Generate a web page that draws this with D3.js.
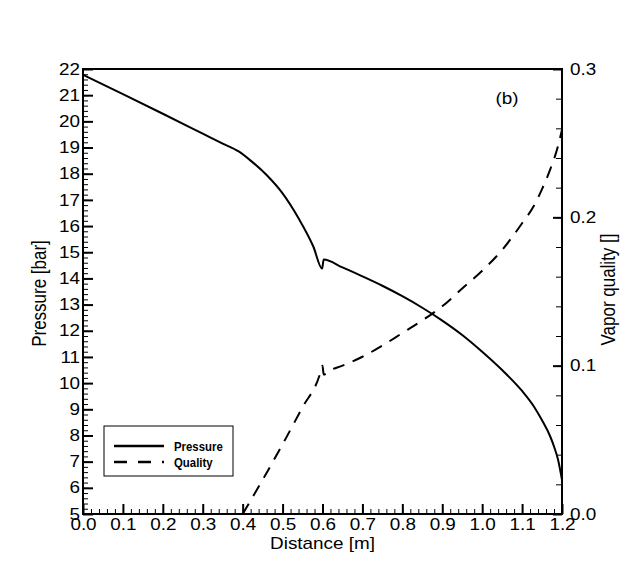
<!DOCTYPE html>
<html>
<head>
<meta charset="utf-8">
<script src="https://cdn.jsdelivr.net/npm/d3@7"></script>
<style>
  html, body { margin: 0; padding: 0; background: #fff; }
  svg { display: block; }
  text { font-family: "Liberation Sans", Arial, sans-serif; fill: #000; }
</style>
</head>
<body>
<svg id="chart" width="640" height="578"></svg>
<script>
// ---- data ----
const distancePressure = [0, 0.1, 0.2, 0.3, 0.35, 0.39, 0.42, 0.46, 0.5, 0.54, 0.577, 0.599, 0.603, 0.65, 0.7, 0.75, 0.8, 0.85, 0.9, 0.95, 1.0, 1.05, 1.1, 1.13, 1.15, 1.17, 1.18, 1.19, 1.2];
const pressure = [21.78, 21.04, 20.29, 19.53, 19.15, 18.85, 18.5, 17.95, 17.25, 16.3, 15.22, 14.38, 14.72, 14.42, 14.08, 13.72, 13.32, 12.88, 12.39, 11.84, 11.2, 10.5, 9.7, 9.1, 8.58, 7.98, 7.58, 7.08, 6.3];

const distanceQuality = [0.4, 0.45, 0.5, 0.55, 0.592, 0.6, 0.603, 0.62, 0.65, 0.7, 0.75, 0.8, 0.85, 0.9, 0.95, 1.0, 1.05, 1.1, 1.13, 1.15, 1.17, 1.19, 1.2];
const quality = [0, 0.023, 0.047, 0.072, 0.093, 0.1, 0.094, 0.097, 0.1, 0.106, 0.1135, 0.122, 0.1305, 0.14, 0.152, 0.164, 0.178, 0.196, 0.208, 0.219, 0.232, 0.248, 0.259];

const xTicks = [0, 0.1, 0.2, 0.3, 0.4, 0.5, 0.6, 0.7, 0.8, 0.9, 1.0, 1.1, 1.2];
const pTicks = [5, 6, 7, 8, 9, 10, 11, 12, 13, 14, 15, 16, 17, 18, 19, 20, 21, 22];
const qTicks = [0, 0.1, 0.2, 0.3];
const seriesNames = ["Pressure", "Quality"];
const titles = { x: "Distance [m]", yLeft: "Pressure [bar]", yRight: "Vapor quality []", panel: "(b)" };

// ---- layout ----
const L = 83, R = 562, T = 69, B = 514;
const SX = 1.18; // horizontal stretch of the reference lettering
const svg = d3.select("#chart");

const x = d3.scaleLinear().domain([0, 1.2]).range([L, R]);
const yP = d3.scaleLinear().domain([5, 22]).range([B, T]);
const yQ = d3.scaleLinear().domain([0, 0.3]).range([B, T]);

const range = (a, b, s) => d3.range(Math.round((b - a) / s) + 1).map(i => +(a + i * s).toFixed(4));

function stretch(sel, k) {
  const s = k || SX;
  sel.each(function () {
    const t = d3.select(this);
    const tx = +t.attr("x") || 0, ty = +t.attr("y") || 0;
    t.attr("x", 0).attr("y", 0).attr("transform", `translate(${tx},${ty}) scale(${s},1)`);
  });
}

function styleAxis(g, major) {
  g.select(".domain").remove();
  g.selectAll(".tick line").attr("stroke", "#000").attr("stroke-width", major ? 2 : 1);
}

// minor ticks
svg.append("g").attr("transform", `translate(0,${B})`)
  .call(d3.axisBottom(x).tickValues(range(0, 1.2, 0.02)).tickSize(-5).tickFormat(""))
  .call(g => styleAxis(g, false));
svg.append("g").attr("transform", `translate(${L},0)`)
  .call(d3.axisLeft(yP).tickValues(range(5, 22, 0.2)).tickSize(-5).tickFormat(""))
  .call(g => styleAxis(g, false));
svg.append("g").attr("transform", `translate(${R},0)`)
  .call(d3.axisRight(yQ).tickValues(range(0, 0.3, 0.02)).tickSize(-6).tickFormat(""))
  .call(g => styleAxis(g, false));

// major ticks + labels
const gx = svg.append("g").attr("transform", `translate(0,${B})`)
  .call(d3.axisBottom(x).tickValues(xTicks).tickSize(-10).tickPadding(5).tickFormat(d3.format(".1f")))
  .call(g => styleAxis(g, true));
const gl = svg.append("g").attr("transform", `translate(${L},0)`)
  .call(d3.axisLeft(yP).tickValues(pTicks).tickSize(-10).tickPadding(3).tickFormat(d3.format("d")))
  .call(g => styleAxis(g, true));
const gr = svg.append("g").attr("transform", `translate(${R},0)`)
  .call(d3.axisRight(yQ).tickValues(qTicks).tickSize(-9).tickPadding(8).tickFormat(d3.format(".1f")))
  .call(g => styleAxis(g, true));

[gx, gl, gr].forEach(g => {
  g.attr("font-family", null).attr("font-size", null);
  g.selectAll(".tick text").style("font-size", "16px").call(stretch);
});

// frame
svg.append("rect").attr("x", L).attr("y", T).attr("width", R - L).attr("height", B - T)
  .attr("fill", "none").attr("stroke", "#000").attr("stroke-width", 2);

// curves
const lineP = d3.line().x((d, i) => x(distancePressure[i])).y(d => yP(d)).curve(d3.curveMonotoneX);
const lineQ = d3.line().x((d, i) => x(distanceQuality[i])).y(d => yQ(d)).curve(d3.curveMonotoneX);

svg.append("path").datum(pressure).attr("d", lineP)
  .attr("fill", "none").attr("stroke", "#000").attr("stroke-width", 2);
svg.append("path").datum(quality).attr("d", lineQ)
  .attr("fill", "none").attr("stroke", "#000").attr("stroke-width", 2)
  .attr("stroke-dasharray", "12,9");

// axis titles
svg.append("text").attr("x", (L + R) / 2).attr("y", 549).attr("text-anchor", "middle")
  .style("font-size", "16px").text(titles.x).call(stretch);
svg.append("text").attr("transform", `translate(46,${(T + B) / 2 + 2}) rotate(-90) scale(1,1.15)`)
  .attr("text-anchor", "middle").style("font-size", "17px").text(titles.yLeft);
svg.append("text").attr("transform", `translate(615,${(T + B) / 2 - 2}) rotate(-90) scale(1,1.15)`)
  .attr("text-anchor", "middle").style("font-size", "17px").text(titles.yRight);
svg.append("text").attr("x", 507).attr("y", 104).attr("text-anchor", "middle")
  .style("font-size", "16px").text(titles.panel).call(stretch);

// legend
const lg = svg.append("g");
lg.append("rect").attr("x", 104).attr("y", 426).attr("width", 129).attr("height", 50)
  .attr("fill", "#fff").attr("stroke", "#000").attr("stroke-width", 1);
const rowsY = [446, 462];
const dashes = [null, "13,11"];
seriesNames.forEach((name, i) => {
  lg.append("line").attr("x1", 114).attr("x2", 164).attr("y1", rowsY[i]).attr("y2", rowsY[i])
    .attr("stroke", "#000").attr("stroke-width", 2.5).attr("stroke-dasharray", dashes[i]);
  lg.append("text").attr("x", 174).attr("y", rowsY[i] + 4.5).style("font-size", "12px")
    .style("font-weight", "bold").text(name).call(sel => stretch(sel, 0.95));
});
</script>
</body>
</html>
